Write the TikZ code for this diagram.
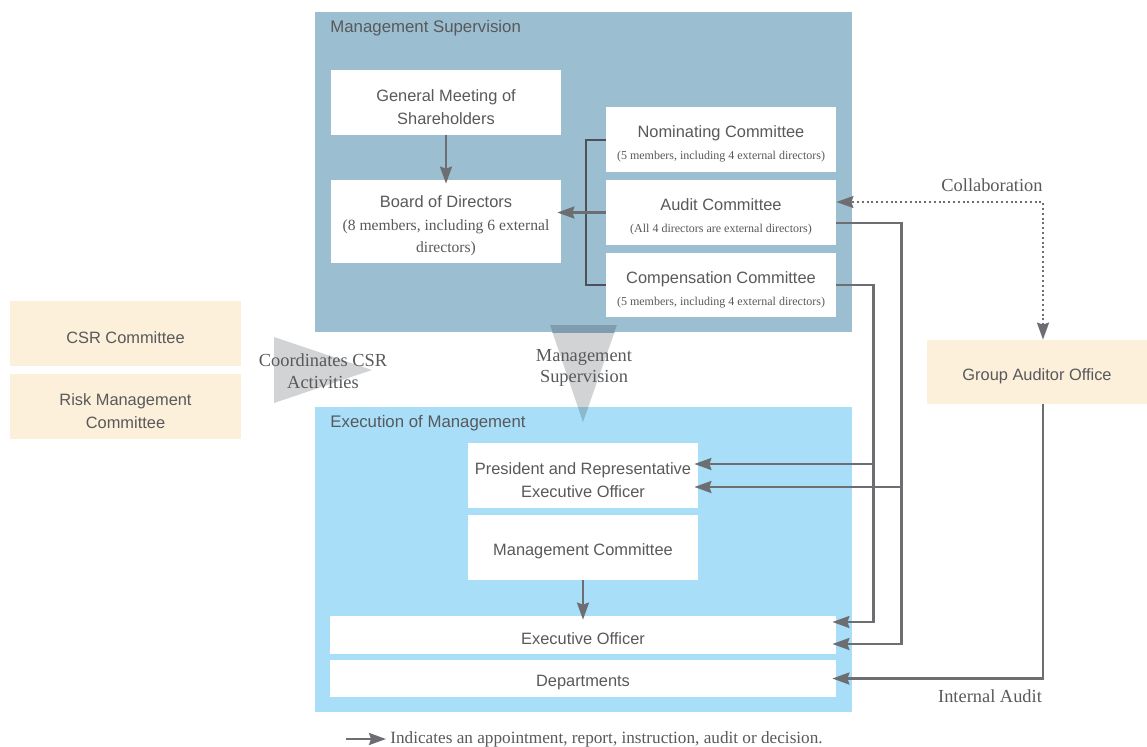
\documentclass[tikz,border=0pt]{standalone}
\usepackage{fontspec}
\setmainfont{Liberation Serif}
\setsansfont{Liberation Sans}
\usepackage{tikz}
\usetikzlibrary{arrows.meta, positioning}
\definecolor{MSblue}{HTML}{9BBFD1}
\definecolor{EMblue}{HTML}{A8DEF8}
\definecolor{CRcream}{HTML}{FDF0DA}
\definecolor{TXgrey}{HTML}{58595B}
\definecolor{ARgrey}{HTML}{6D6E71}
\definecolor{BRdark}{HTML}{4E5159}
\definecolor{TRgrey}{HTML}{D1D3D4}
\definecolor{TRms}{HTML}{7F9DAE}
\definecolor{TRem}{HTML}{8AB8CD}
\newcommand{\smalldetail}[1]{{\rmfamily\fontsize{6}{10.5}\selectfont #1}}
\newcommand{\middetail}[1]{{\rmfamily\fontsize{7.8}{10.5}\selectfont #1}}
\newcommand{\tstrut}{\rule{0pt}{10.5pt}}

\begin{document}
\begin{tikzpicture}[x=0.5pt, y=-0.5pt,
    >={Stealth[length=8.5pt, width=6pt, inset=1pt]},
    wbox/.style={fill=white, align=center, text=TXgrey, inner sep=1pt,
      font=\sffamily\fontsize{8.2}{11.2}\selectfont,
      execute at begin node={\rule{0pt}{10pt}},
      minimum width=115pt, minimum height=32.5pt},
    cbox/.style={wbox, fill=CRcream},
    paneltitle/.style={anchor=west, text=TXgrey, inner sep=0pt,
      font=\sffamily\fontsize{8.4}{10}\selectfont},
    lbl/.style={text=TXgrey, align=center, inner sep=0pt,
      font=\rmfamily\fontsize{9.2}{10.8}\selectfont},
    arr/.style={->, ARgrey, line width=1.2pt, shorten >=-2pt},
    brk/.style={BRdark, line width=1pt}]
  \useasboundingbox (0,0) rectangle (1147,746);
  % Panels
  \fill[MSblue] (315,12) rectangle (852,332);
  \fill[EMblue] (315,407) rectangle (852,712);
  \node[paneltitle] (mstitle) at (330,28) {Management Supervision};
  \node[paneltitle] (emtitle) at (330,423) {Execution of Management};
  % Triangles
  \fill[TRgrey] (274,337) -- (274,403) -- (372,370) -- cycle;
  \fill[TRgrey] (550,325) -- (617,325) -- (583,422) -- cycle;
  \begin{scope}
    \clip (315,12) rectangle (852,332);
    \fill[TRms] (550,325) -- (617,325) -- (583,422) -- cycle;
  \end{scope}
  \begin{scope}
    \clip (315,407) rectangle (852,712);
    \fill[TRem] (550,325) -- (617,325) -- (583,422) -- cycle;
  \end{scope}
  \node[lbl] (coord) at (323,371) {Coordinates CSR\\Activities};
  \node[lbl] (supv) at (584,368) {Management\\Supervision};
  % Management supervision
  \node[wbox] (gms) at (446,102.5) {\tstrut General Meeting of\\Shareholders};
  \node[wbox, minimum height=41.5pt] (bod) at (446,221.5)
    {\tstrut Board of Directors\\\middetail{(8 members, including 6 external}\\\middetail{directors)}};
  \node[wbox] (nom) at (721,139.5)
    {\tstrut Nominating Committee\\\smalldetail{(5 members, including 4 external directors)}};
  \node[wbox] (aud) at (721,212.5)
    {\tstrut Audit Committee\\\smalldetail{(All 4 directors are external directors)}};
  \node[wbox, minimum height=32pt] (comp) at (721,285)
    {\tstrut Compensation Committee\\\smalldetail{(5 members, including 4 external directors)}};
  % Execution of management
  \node[wbox] (pres) at (583,475.5) {\tstrut President and Representative\\Executive Officer};
  \node[wbox] (mc) at (583,547.5) {Management Committee};
  \node[wbox, minimum width=253pt, minimum height=19pt] (eo) at (583,635) {Executive Officer};
  \node[wbox, minimum width=253pt, minimum height=18.5pt] (dep) at (583,678.5) {Departments};
  % Side committees
  \node[cbox, minimum width=115.5pt] (csr) at (125.5,333.5) {CSR Committee};
  \node[cbox, minimum width=115.5pt] (risk) at (125.5,406.5) {\tstrut Risk Management\\Committee};
  \node[cbox, minimum width=110pt, minimum height=32pt] (gao) at (1037,372) {Group Auditor Office};
  % Connectors
  \draw[arr] (gms) -- (bod);
  \draw[arr] (mc) -- (eo);
  \draw[brk] (nom.west) -- ++(-20,0) |- (comp.west);
  \draw[arr] (aud.west) -- (bod.east |- aud.west);
  \coordinate (presA) at ([yshift=5.75pt]pres.east);
  \coordinate (presB) at ([yshift=-5.75pt]pres.east);
  \coordinate (eoA) at ([yshift=6.5pt]eo.east);
  \coordinate (eoB) at ([yshift=-4.5pt]eo.east);
  \coordinate (audout) at ([yshift=-5.25pt]aud.east);
  \coordinate (audin) at ([yshift=5.25pt]aud.east);
  \coordinate (cmpbus) at ([xshift=18.5pt]comp.east);
  \coordinate (audbus) at ([xshift=32.5pt]audout);
  \draw[arr] (comp.east) -- (cmpbus) |- (eoA);
  \draw[arr] (cmpbus |- presA) -- (presA);
  \draw[arr] (audout) -- (audbus) |- (eoB);
  \draw[arr] (audbus |- presB) -- (presB);
  \coordinate (gaotop) at ([xshift=3pt]gao.north);
  \coordinate (gaobot) at ([xshift=3pt]gao.south);
  \draw[<->, ARgrey, line width=1pt, dash pattern=on 1pt off 1.4pt] (gaotop) |- (audin);
  \draw[arr] (gaobot) |- (dep.east);
  \node[lbl] (collab) at (992,185) {Collaboration};
  \node[lbl] (intaudit) at (990,696) {Internal Audit};
  % Legend
  \node[lbl, anchor=west, inner xsep=2pt, font=\rmfamily\fontsize{8.6}{10}\selectfont] (legend) at (386,739)
    {Indicates an appointment, report, instruction, audit or decision.};
  \coordinate (legtail) at ([xshift=-20pt]legend.west);
  \draw[arr, shorten >=0pt] (legtail) -- (legend.west);
\end{tikzpicture}
\end{document}
